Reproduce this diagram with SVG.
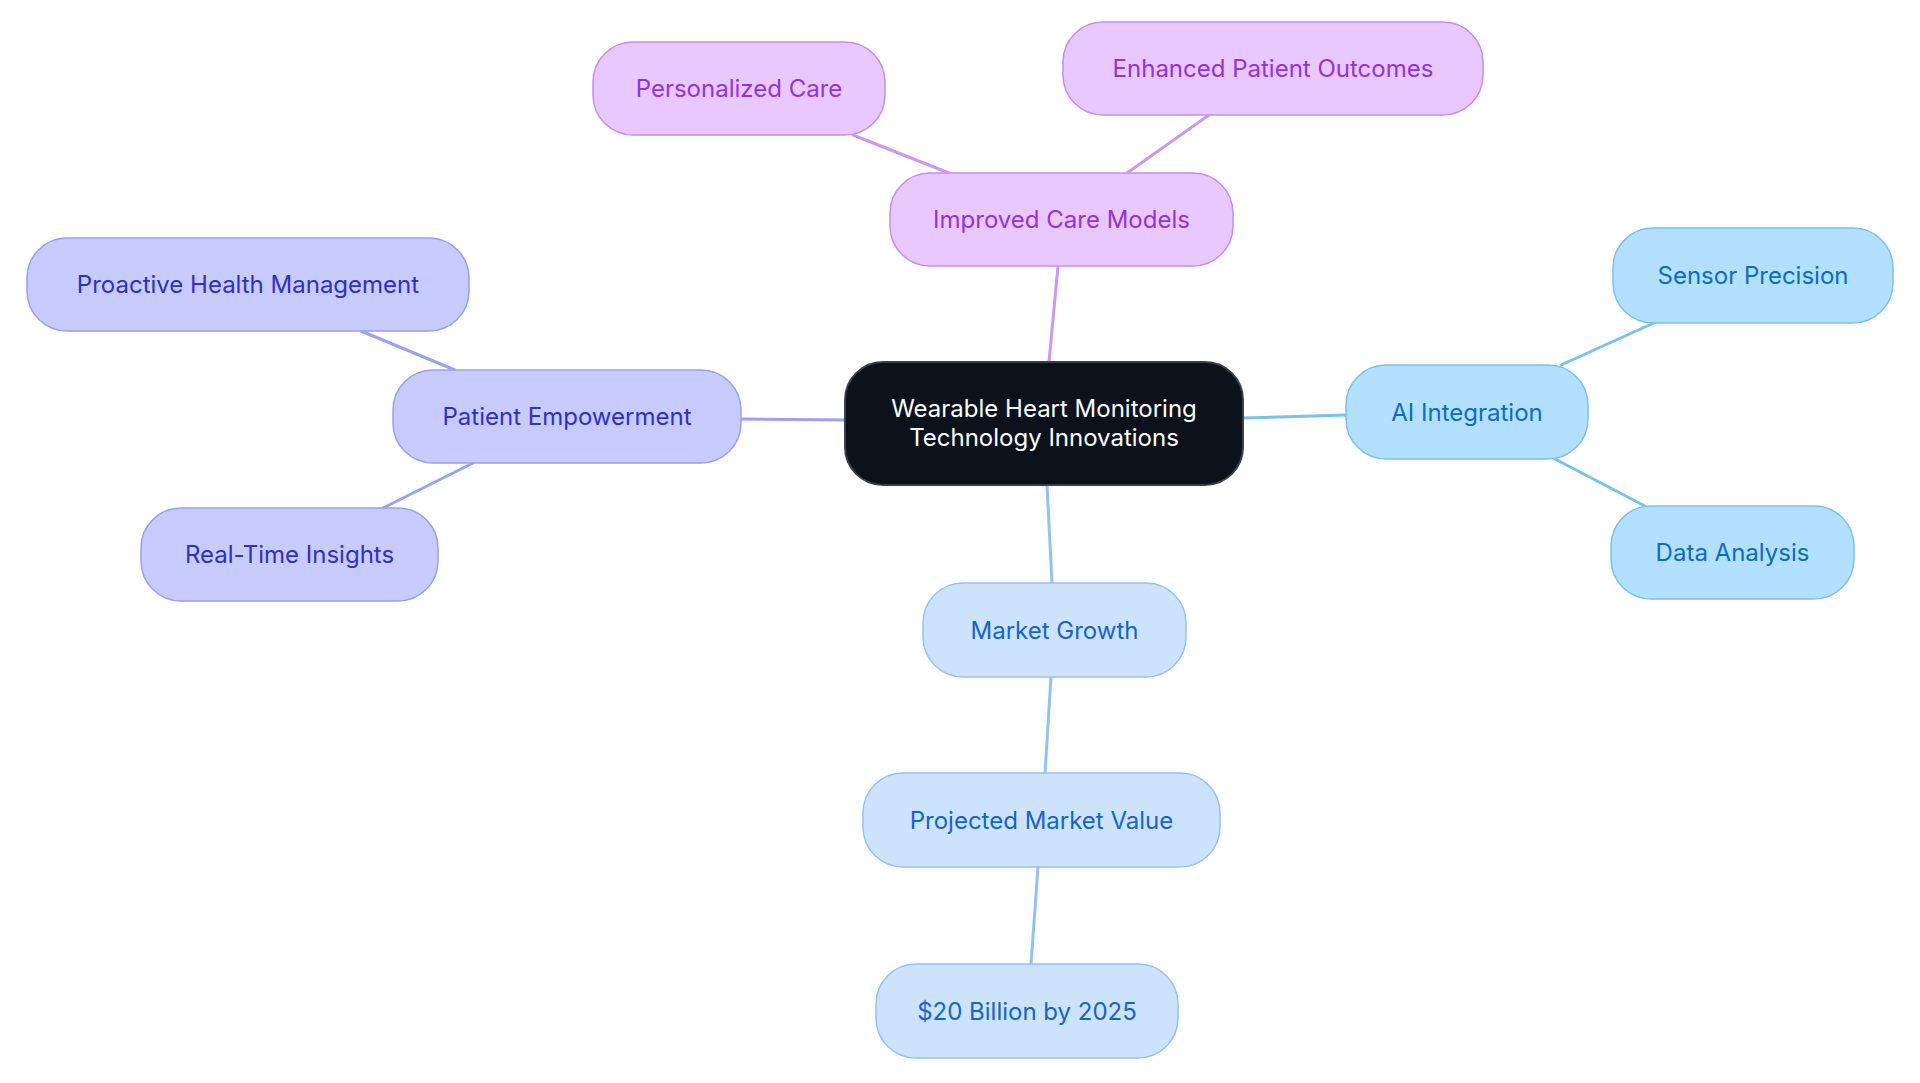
<svg xmlns="http://www.w3.org/2000/svg" width="1920" height="1083" viewBox="0 0 1920 1083">
<style>
text{font-family:Inter,"Noto Sans",sans-serif;font-size:24px;text-anchor:middle;dominant-baseline:central}
.edge{fill:none;stroke-width:3;stroke-linecap:round}
.ep{stroke:#C99AF2}.ei{stroke:#9CA0F0}.ea{stroke:#7CC0EE}.em{stroke:#94C2F0}
.np rect{fill:#E8C8FE;stroke:#C58DEE;stroke-width:1.5}.np text{fill:#9333D9}
.ni rect{fill:#C8CBFD;stroke:#9A9EF0;stroke-width:1.5}.ni text{fill:#2F2FC8}
.na rect{fill:#B3E0FE;stroke:#7DBFEE;stroke-width:1.5}.na text{fill:#0A6DC2}
.nm rect{fill:#CDE3FB;stroke:#94C2F0;stroke-width:1.5}.nm text{fill:#1565C8}
.nc rect{fill:#0B121B;stroke:#3A3F46;stroke-width:2}.nc text{fill:#FFFFFF}
</style>
<rect width="1920" height="1083" fill="#FFFFFF"/>
<g id="connectors">
<line class="edge ep" x1="1049" y1="362" x2="1058" y2="266"/>
<line class="edge ep" x1="949" y1="173" x2="853" y2="135"/>
<line class="edge ep" x1="1127" y1="173" x2="1209" y2="115"/>
<line class="edge ei" x1="845" y1="420" x2="741" y2="419"/>
<line class="edge ei" x1="455" y1="370" x2="361" y2="331"/>
<line class="edge ei" x1="473" y1="463" x2="383" y2="508"/>
<line class="edge ea" x1="1243" y1="418" x2="1346" y2="415"/>
<line class="edge ea" x1="1561" y1="365" x2="1656" y2="322"/>
<line class="edge ea" x1="1555" y1="459" x2="1645" y2="506"/>
<line class="edge em" x1="1047" y1="485" x2="1052" y2="583"/>
<line class="edge em" x1="1051" y1="677" x2="1045" y2="773"/>
<line class="edge em" x1="1038" y1="867" x2="1031" y2="964"/>
</g>
<g id="node-center" class="nc">
<rect x="845" y="362" width="398" height="123" rx="38"/>
<text x="1044" y="408">Wearable Heart Monitoring</text>
<text x="1044" y="437">Technology Innovations</text>
</g>
<g id="node-improved-care" class="np">
<rect x="890" y="173" width="343" height="93" rx="40"/>
<text x="1061.5" y="219.5">Improved Care Models</text>
</g>
<g id="node-personalized-care" class="np">
<rect x="593" y="42" width="292" height="93" rx="40"/>
<text x="739" y="88.5">Personalized Care</text>
</g>
<g id="node-enhanced-outcomes" class="np">
<rect x="1063" y="22" width="420" height="93" rx="40"/>
<text x="1273" y="68.5">Enhanced Patient Outcomes</text>
</g>
<g id="node-patient-empowerment" class="ni">
<rect x="393" y="370" width="348" height="93" rx="40"/>
<text x="567" y="416.5">Patient Empowerment</text>
</g>
<g id="node-proactive" class="ni">
<rect x="27" y="238" width="442" height="93" rx="40"/>
<text x="248" y="284.5">Proactive Health Management</text>
</g>
<g id="node-realtime" class="ni">
<rect x="141" y="508" width="297" height="93" rx="40"/>
<text x="289.5" y="554.5">Real-Time Insights</text>
</g>
<g id="node-ai" class="na">
<rect x="1346" y="365" width="242" height="94" rx="40"/>
<text x="1467" y="412">AI Integration</text>
</g>
<g id="node-sensor" class="na">
<rect x="1613" y="228" width="280" height="95" rx="40"/>
<text x="1753" y="275.5">Sensor Precision</text>
</g>
<g id="node-data" class="na">
<rect x="1611" y="506" width="243" height="93" rx="40"/>
<text x="1732.5" y="552.5">Data Analysis</text>
</g>
<g id="node-market-growth" class="nm">
<rect x="923" y="583" width="263" height="94" rx="40"/>
<text x="1054.5" y="630">Market Growth</text>
</g>
<g id="node-projected" class="nm">
<rect x="863" y="773" width="357" height="94" rx="40"/>
<text x="1041.5" y="820">Projected Market Value</text>
</g>
<g id="node-20b" class="nm">
<rect x="876" y="964" width="302" height="94" rx="40"/>
<text x="1027" y="1011">$20 Billion by 2025</text>
</g>
</svg>
